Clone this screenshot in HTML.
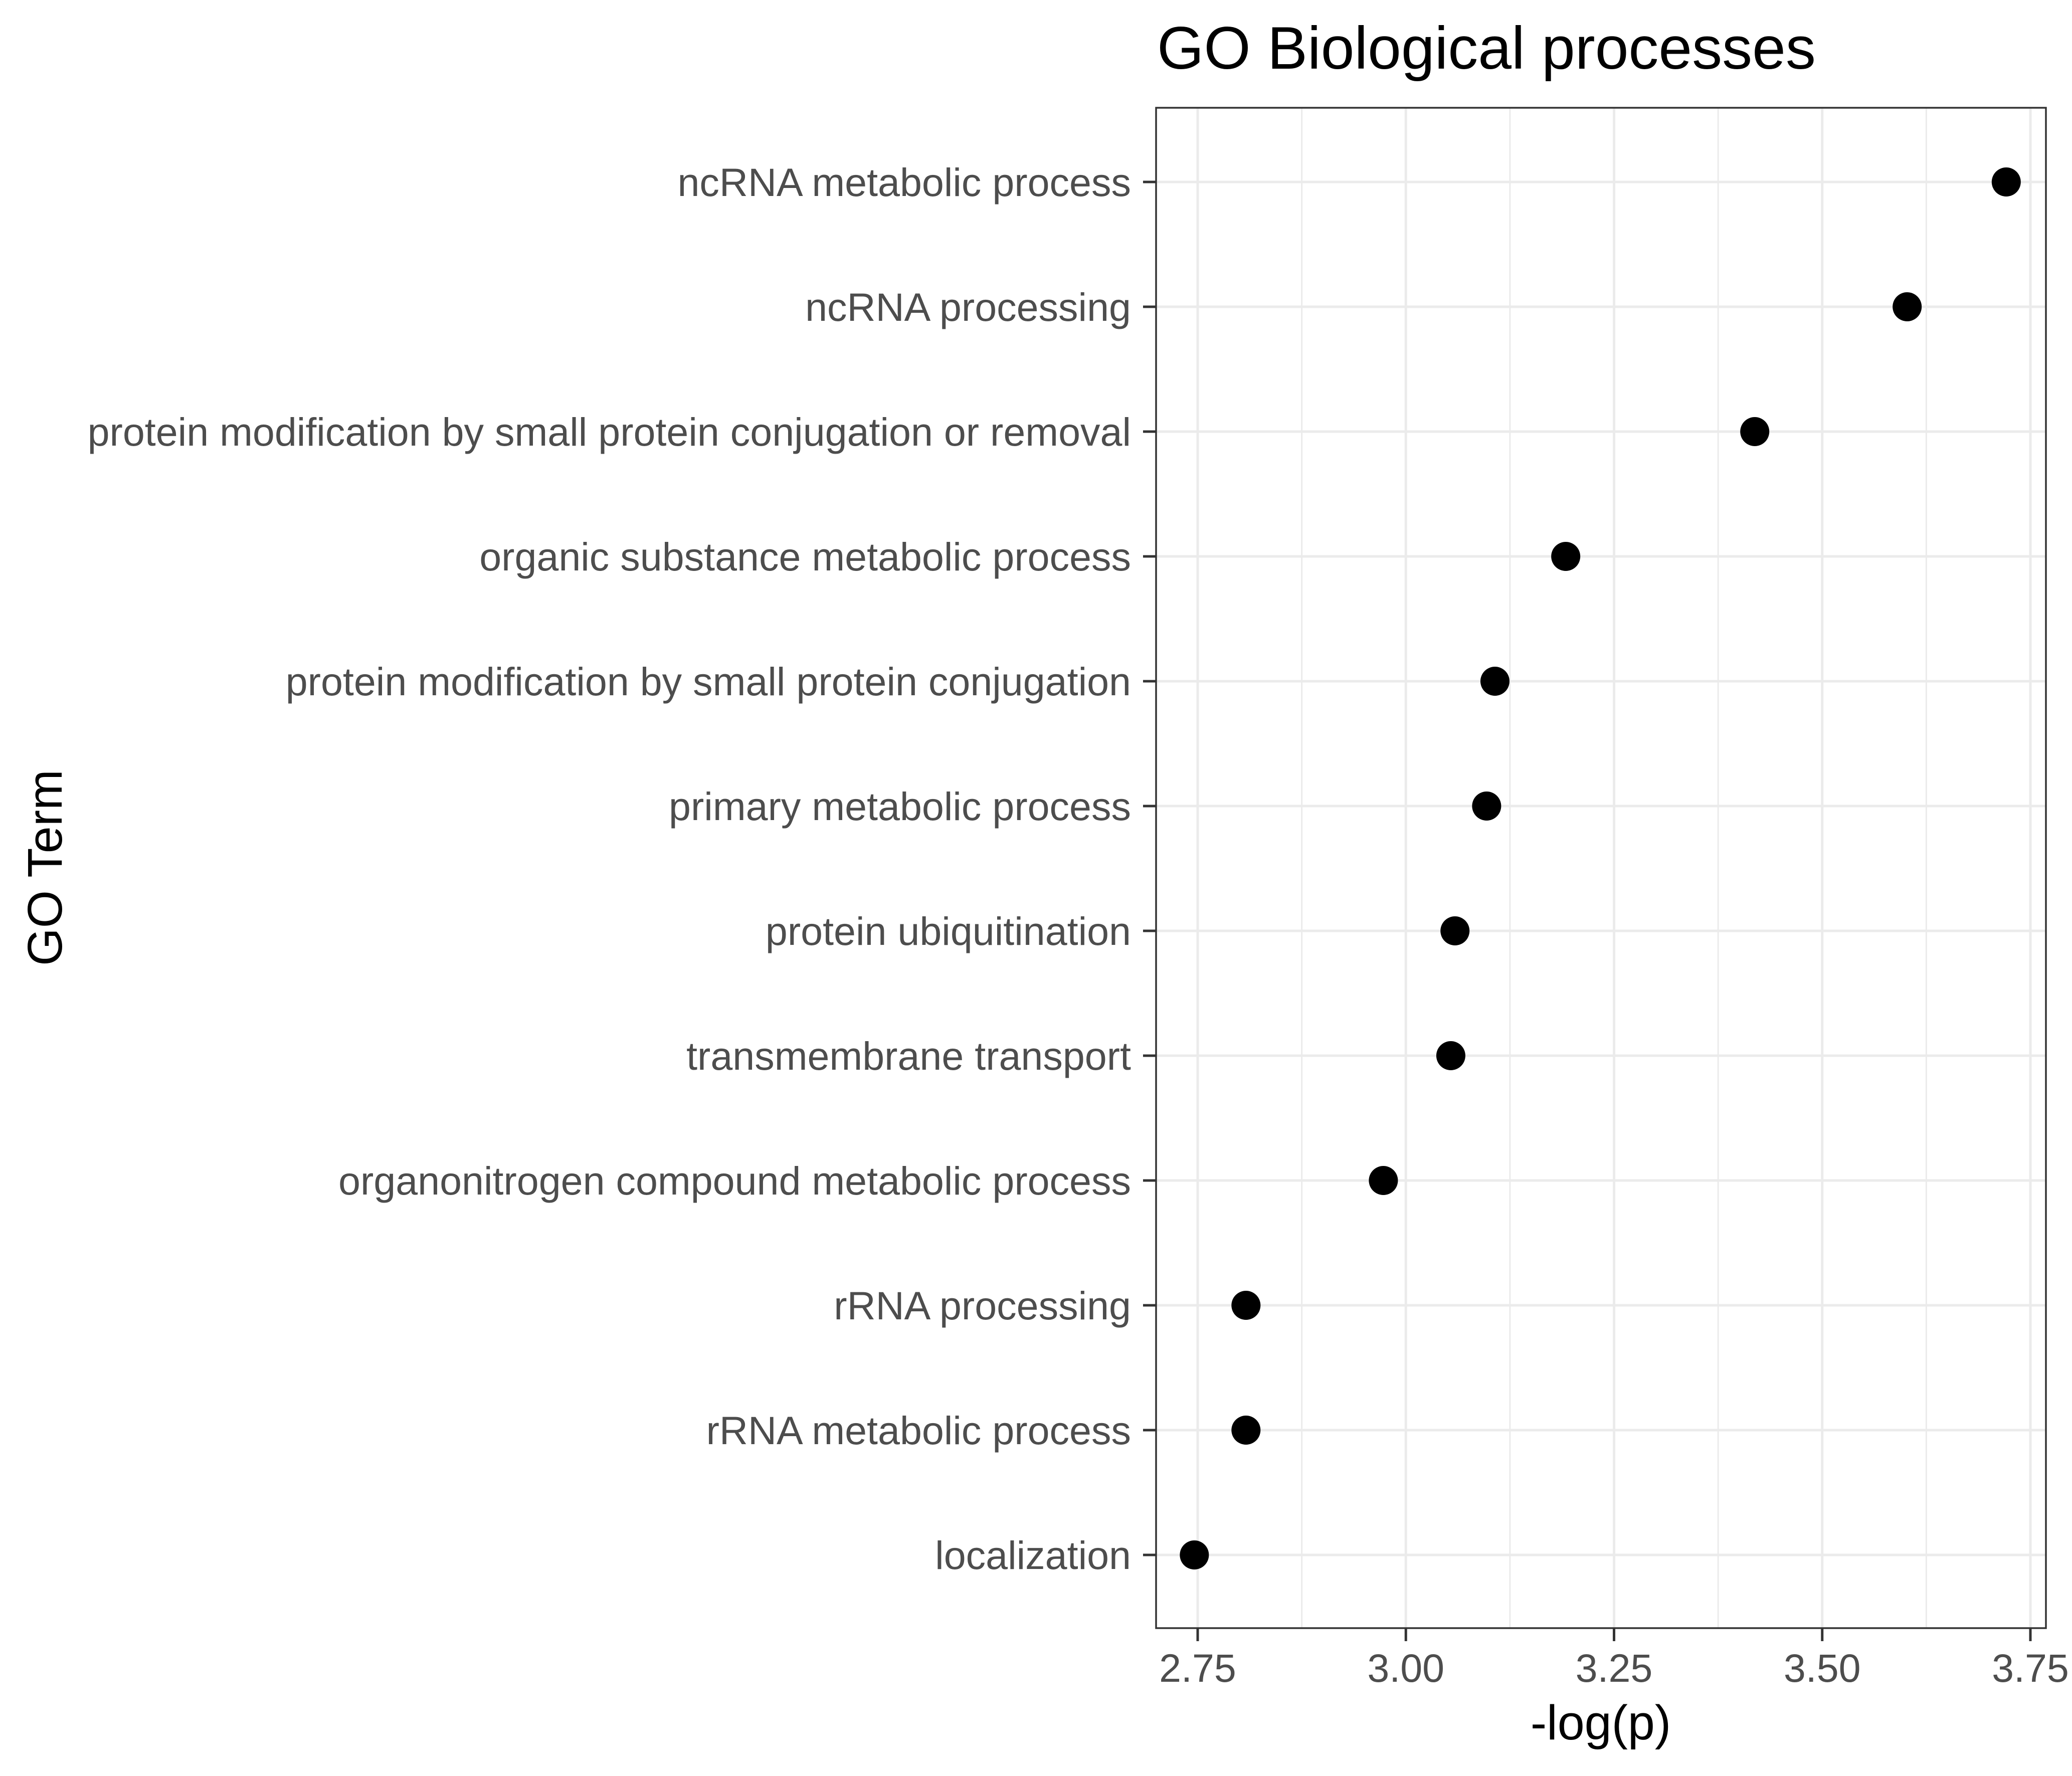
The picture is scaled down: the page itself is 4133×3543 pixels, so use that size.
<!DOCTYPE html>
<html><head><meta charset="utf-8"><style>html,body{margin:0;padding:0;background:#fff}svg{display:block}</style></head>
<body>
<svg id="chart" width="4133" height="3543" viewBox="0 0 4133 3543" xmlns="http://www.w3.org/2000/svg" font-family="Liberation Sans, Arial, sans-serif">
<rect width="4133" height="3543" fill="#fff"/>
<text x="2308" y="137" font-size="120" fill="#000">GO Biological processes</text>
<g id="grid"></g>
<g id="points"></g>
<rect x="2306" y="215" width="1775" height="3033" fill="none" stroke="#333" stroke-width="3.5"/>
<g id="xaxis"></g>
<g id="yaxis"></g>
<text x="3193" y="3470" font-size="97" text-anchor="middle" fill="#000">-log(p)</text>
<text transform="translate(123,1731) rotate(-90)" font-size="97" text-anchor="middle" fill="#000">GO Term</text>
</svg>
<script>
const terms = ["ncRNA metabolic process","ncRNA processing","protein modification by small protein conjugation or removal","organic substance metabolic process","protein modification by small protein conjugation","primary metabolic process","protein ubiquitination","transmembrane transport","organonitrogen compound metabolic process","rRNA processing","rRNA metabolic process","localization"];
const values = [3.721,3.602,3.419,3.192,3.107,3.097,3.059,3.054,2.973,2.808,2.808,2.746];
const xTicks = [2.75,3.00,3.25,3.50,3.75];
const xTickLabels = ["2.75","3.00","3.25","3.50","3.75"];
const xMinor = [2.875,3.125,3.375,3.625];

const NS="http://www.w3.org/2000/svg";
const L=2306,R=4081,T=215,B=3248;
function x(v){return 2389+(v-2.75)*1661;}
function y(i){return 363+i*249;}
function mk(tag,attrs,parent){const e=document.createElementNS(NS,tag);for(const k in attrs)e.setAttribute(k,attrs[k]);parent.appendChild(e);return e;}
const grid=document.getElementById('grid'),pts=document.getElementById('points'),xa=document.getElementById('xaxis'),ya=document.getElementById('yaxis');
xMinor.forEach(v=>{const l=mk('line',{x1:x(v),x2:x(v),y1:T,y2:B,stroke:'#EBEBEB','stroke-width':3},grid);

});
xTicks.forEach((v,i)=>{const l=mk('line',{x1:x(v),x2:x(v),y1:T,y2:B,stroke:'#EBEBEB','stroke-width':5},grid);


const t=mk('line',{x1:x(v),x2:x(v),y1:B,y2:B+26,stroke:'#333','stroke-width':5},xa);


const tx=mk('text',{x:x(v),y:3355,'font-size':79,'text-anchor':'middle',fill:'#4D4D4D'},xa);
tx.textContent=xTickLabels[i];

});
terms.forEach((term,i)=>{const l=mk('line',{x1:L,x2:R,y1:y(i),y2:y(i),stroke:'#EBEBEB','stroke-width':5},grid);


const t=mk('line',{x1:L-26,x2:L,y1:y(i),y2:y(i),stroke:'#333','stroke-width':5},ya);


const tx=mk('text',{x:2256,y:y(i)+28,'font-size':79,'text-anchor':'end',fill:'#4D4D4D'},ya);
tx.textContent=term;


const c=mk('circle',{cx:x(values[i]),cy:y(i),r:29,fill:'#000'},pts);

});
</script>
</body></html>
